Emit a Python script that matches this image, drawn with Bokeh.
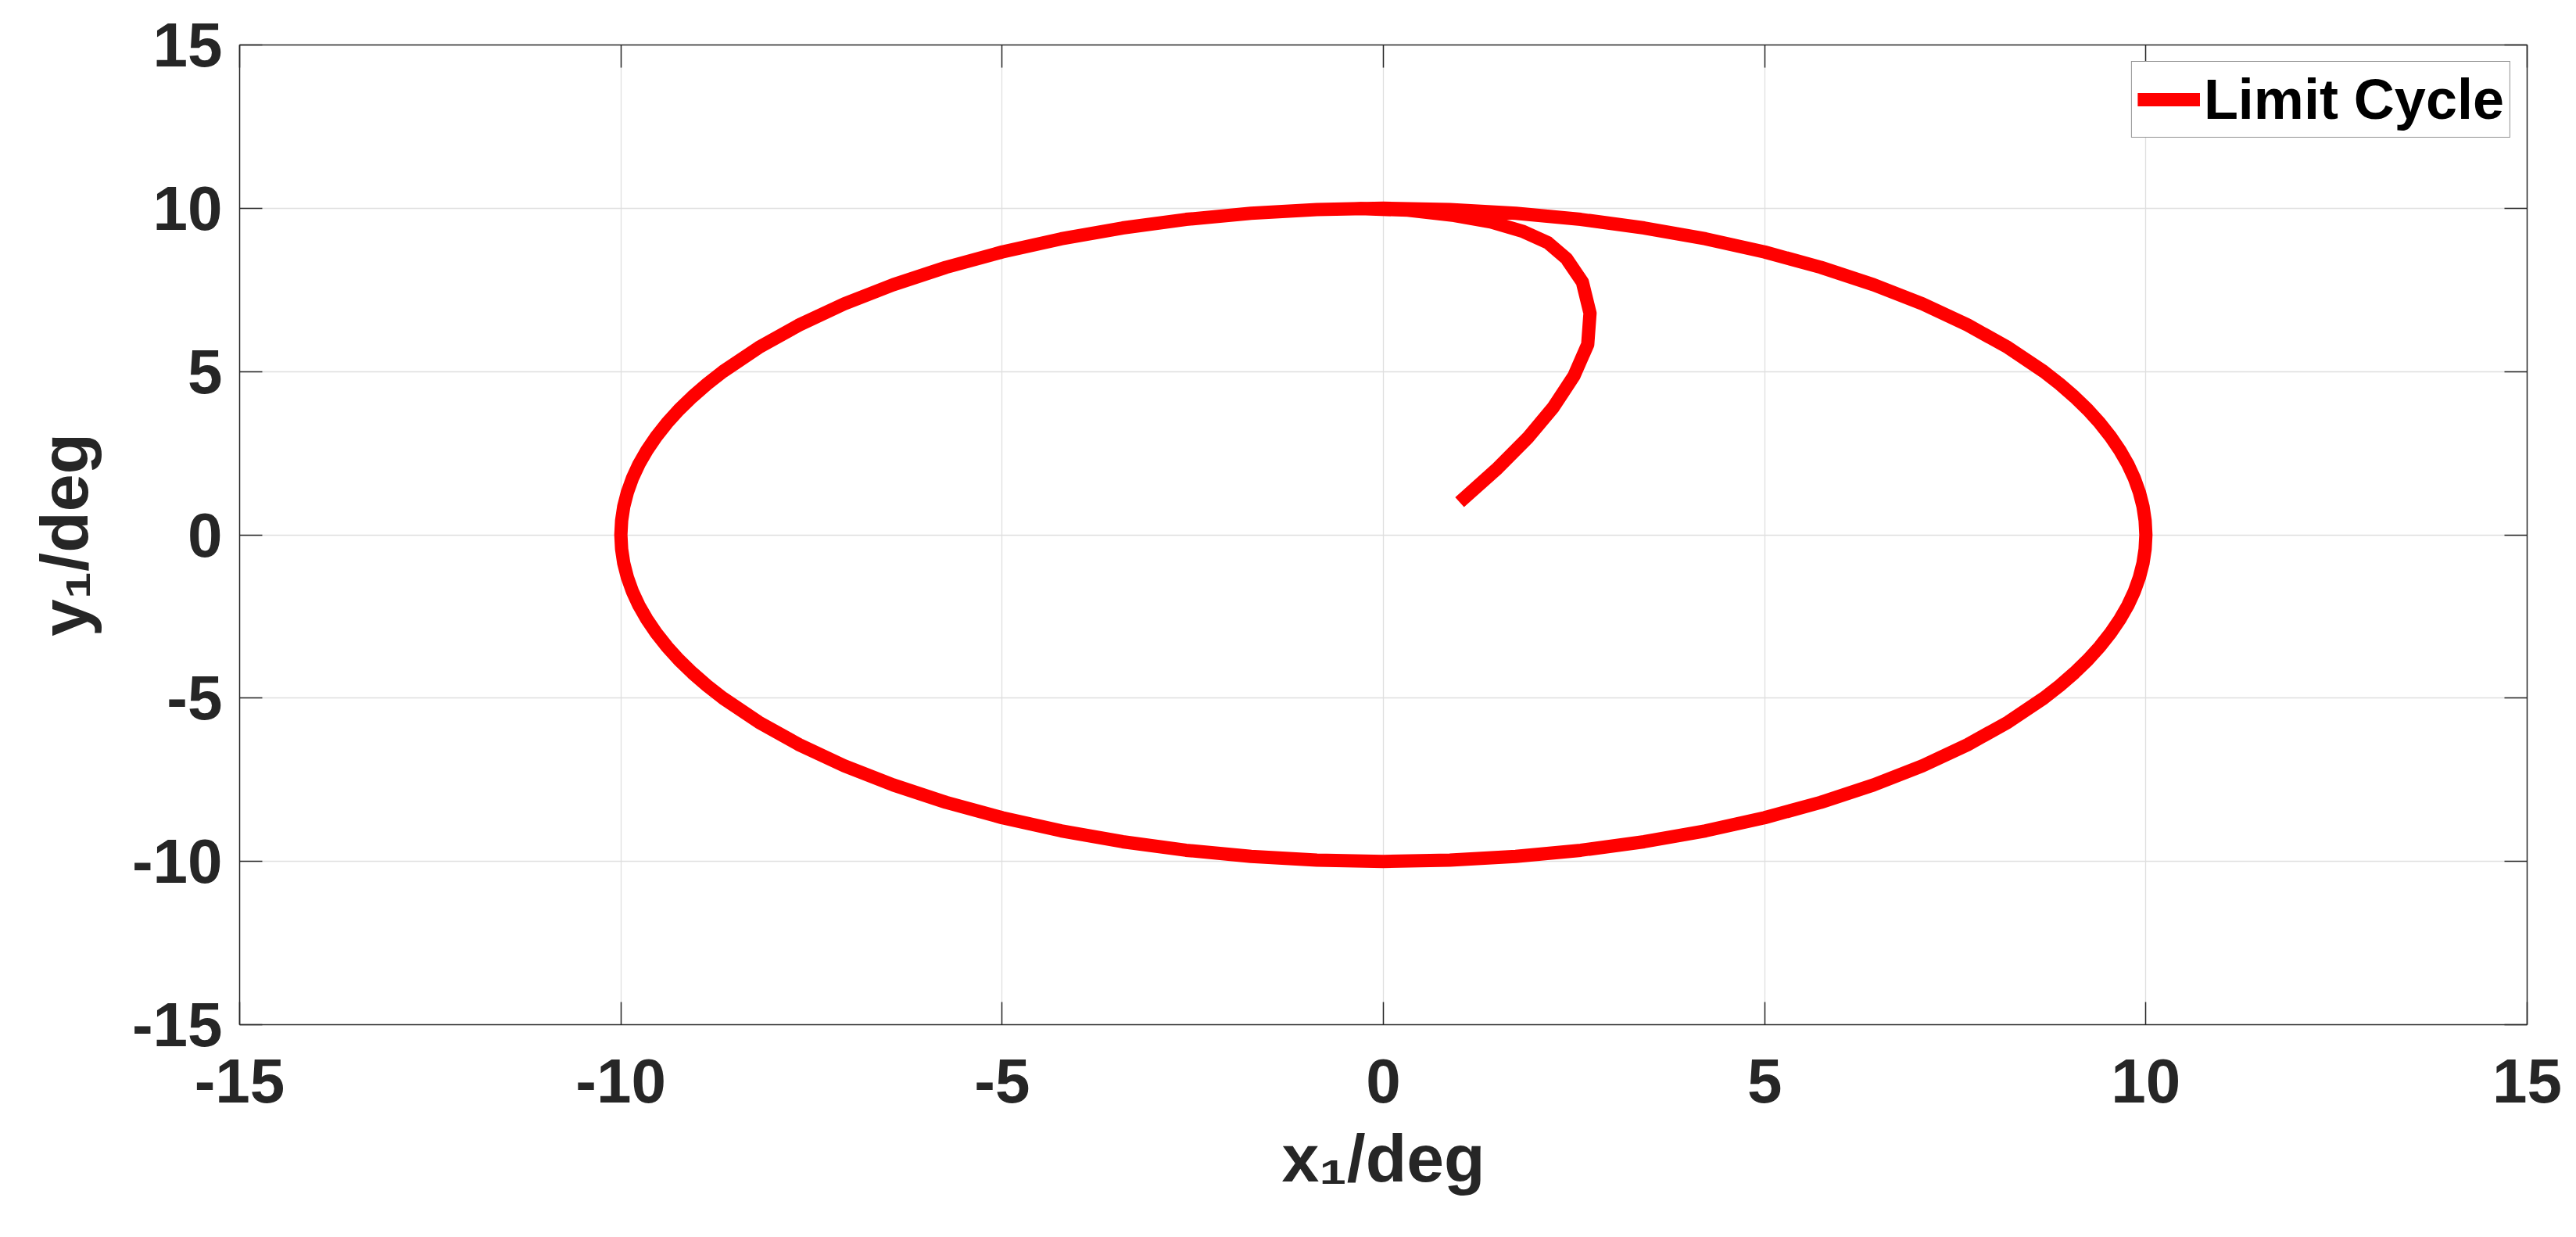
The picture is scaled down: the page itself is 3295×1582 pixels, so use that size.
from bokeh.plotting import figure
from bokeh.models import FixedTicker, LinearAxis, Legend, LegendItem, Range1d
from bokeh.embed import file_html
from bokeh.resources import INLINE

# ---- data ----
spiral_x = [1.00, 1.48, 1.89, 2.23, 2.50, 2.68, 2.71, 2.61, 2.40, 2.16, 1.82, 1.41, 0.93, 0.32, -0.30]
spiral_y = [1.00, 2.00, 2.96, 3.91, 4.87, 5.83, 6.79, 7.74, 8.46, 8.94, 9.30, 9.58, 9.78, 9.94, 9.99]

cycle_x = [-0.872, -1.736, -2.588, -3.420, -4.226, -5.000, -5.736, -6.428, -7.071, -7.660, -8.192,
           -8.660, -8.870, -9.063, -9.239, -9.397, -9.537, -9.659, -9.763, -9.848, -9.914, -9.962, -9.990,
           -10.0, -9.990, -9.962, -9.914, -9.848, -9.763, -9.659, -9.537, -9.397, -9.239, -9.063, -8.870,
           -8.660, -8.192, -7.660, -7.071, -6.428, -5.736, -5.000, -4.226, -3.420, -2.588, -1.736, -0.872,
           0.0, 0.872, 1.736, 2.588, 3.420, 4.226, 5.000, 5.736, 6.428, 7.071, 7.660, 8.192,
           8.660, 8.870, 9.063, 9.239, 9.397, 9.537, 9.659, 9.763, 9.848, 9.914, 9.962, 9.990,
           10.0, 9.990, 9.962, 9.914, 9.848, 9.763, 9.659, 9.537, 9.397, 9.239, 9.063, 8.870,
           8.660, 8.192, 7.660, 7.071, 6.428, 5.736, 5.000, 4.226, 3.420, 2.588, 1.736, 0.872, 0.0, -0.872]
cycle_y = [9.962, 9.848, 9.659, 9.397, 9.063, 8.660, 8.192, 7.660, 7.071, 6.428, 5.736,
           5.000, 4.617, 4.226, 3.827, 3.420, 3.007, 2.588, 2.164, 1.736, 1.305, 0.872, 0.436,
           0.0, -0.436, -0.872, -1.305, -1.736, -2.164, -2.588, -3.007, -3.420, -3.827, -4.226, -4.617,
           -5.000, -5.736, -6.428, -7.071, -7.660, -8.192, -8.660, -9.063, -9.397, -9.659, -9.848, -9.962,
           -10.0, -9.962, -9.848, -9.659, -9.397, -9.063, -8.660, -8.192, -7.660, -7.071, -6.428, -5.736,
           -5.000, -4.617, -4.226, -3.827, -3.420, -3.007, -2.588, -2.164, -1.736, -1.305, -0.872, -0.436,
           0.0, 0.436, 0.872, 1.305, 1.736, 2.164, 2.588, 3.007, 3.420, 3.827, 4.226, 4.617,
           5.000, 5.736, 6.428, 7.071, 7.660, 8.192, 8.660, 9.063, 9.397, 9.659, 9.848, 9.962, 10.0, 9.962]

x_ticks = [-15, -10, -5, 0, 5, 10, 15]
y_ticks = [-15, -10, -5, 0, 5, 10, 15]
x_label = "x\u2081/deg"
y_label = "y\u2081/deg"
legend_label = "Limit Cycle"

traj_x = spiral_x + cycle_x
traj_y = spiral_y + cycle_y

FONT = "Liberation Sans"
TXT = "#262626"

p = figure(width=3295, height=1582, output_backend="svg", toolbar_location=None,
           x_range=Range1d(-15, 15), y_range=Range1d(-15, 15),
           min_border_left=306, min_border_right=63, min_border_top=57, min_border_bottom=272)
p.outline_line_color = None
p.background_fill_color = "white"
p.border_fill_color = "white"

r = p.line(traj_x, traj_y, line_color="#ff0000", line_width=17, line_join="round")

for ax, ticks in ((p.xaxis[0], x_ticks), (p.yaxis[0], y_ticks)):
    ax.ticker = FixedTicker(ticks=ticks)
    ax.major_label_overrides = {t: str(t) for t in ticks}
    ax.major_label_text_font = FONT
    ax.major_label_text_font_style = "bold"
    ax.major_label_text_font_size = "80px"
    ax.major_label_text_color = TXT
    ax.major_tick_in = 29
    ax.major_tick_out = 0
    ax.minor_tick_line_color = None
    ax.axis_line_color = TXT
    ax.axis_line_width = 1.5
    ax.major_tick_line_color = TXT
    ax.major_tick_line_width = 1.5
    ax.axis_label_text_font = FONT
    ax.axis_label_text_font_style = "bold"
    ax.axis_label_text_font_size = "86px"
    ax.axis_label_text_color = TXT
p.xaxis[0].major_label_standoff = 44
p.yaxis[0].major_label_standoff = 22
p.xaxis[0].axis_label = x_label
p.yaxis[0].axis_label = y_label
p.xaxis[0].axis_label_standoff = 20
p.yaxis[0].axis_label_standoff = 36

# mirrored axes (box) with ticks only
top = LinearAxis(ticker=FixedTicker(ticks=x_ticks))
right = LinearAxis(ticker=FixedTicker(ticks=y_ticks))
for ax in (top, right):
    ax.major_label_text_font_size = "1px"
    ax.major_label_text_color = None
    ax.major_label_standoff = 0
    ax.major_tick_in = 29
    ax.major_tick_out = 0
    ax.minor_tick_line_color = None
    ax.axis_line_color = TXT
    ax.axis_line_width = 1.5
    ax.major_tick_line_color = TXT
    ax.major_tick_line_width = 1.5
p.add_layout(top, "above")
p.add_layout(right, "right")

p.xgrid.ticker = FixedTicker(ticks=x_ticks)
p.ygrid.ticker = FixedTicker(ticks=y_ticks)
p.grid.grid_line_color = "#dfdfdf"
p.grid.grid_line_width = 1.3

legend = Legend(items=[LegendItem(label=legend_label, renderers=[r])],
                location="top_right", margin=21, padding=7,
                glyph_width=80, glyph_height=82, label_height=82, label_standoff=5,
                label_text_font=FONT, label_text_font_style="bold",
                label_text_font_size="72px", label_text_color="#000000",
                border_line_color=TXT, border_line_width=1.5,
                background_fill_color="white", background_fill_alpha=1.0)
p.add_layout(legend)

open("out.html", "w").write(file_html(p, INLINE))
